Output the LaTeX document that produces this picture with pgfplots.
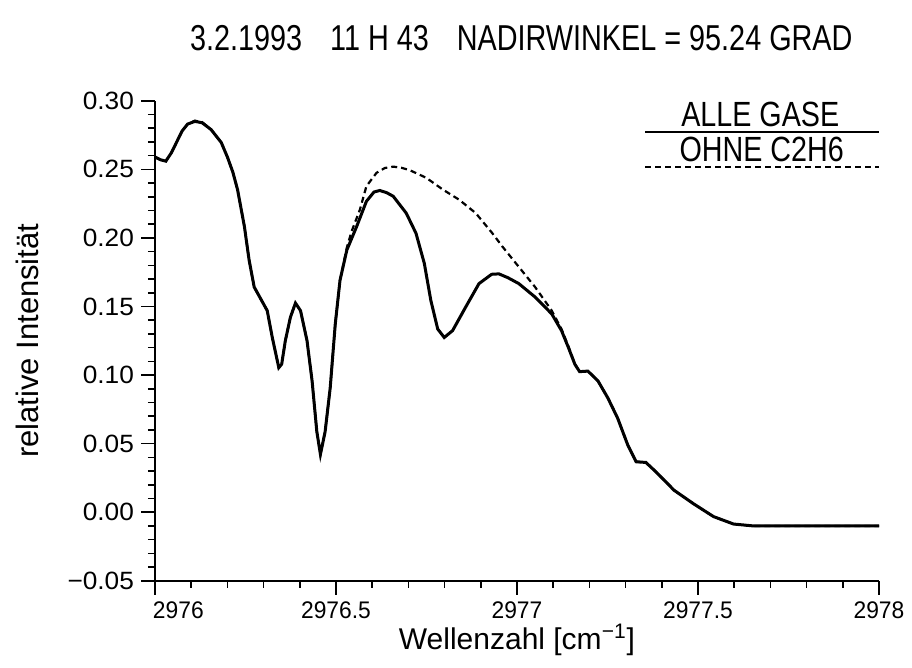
\documentclass[border=0pt]{standalone}
\usepackage{fontspec}
\setmainfont{Liberation Sans}
\newfontfamily\tickfont{Liberation Sans}[FakeStretch=0.95]
\newfontfamily\ytickfont{Liberation Sans}[FakeStretch=1.05]
\newfontfamily\titlefont{Liberation Sans}[FakeStretch=0.8]
\newfontfamily\legfont{Liberation Sans}[FakeStretch=0.82]
\usepackage{pgfplots}
\pgfplotsset{compat=1.18}
\begin{document}
\begin{tikzpicture}
  \begin{axis}[
    scale only axis, width=362pt, height=240pt,
    xmin=2976, xmax=2978, ymin=-0.05, ymax=0.30,
    axis x line=bottom, axis y line=left,
    axis line style={-, line width=0.9pt},
    clip=false,
    xtick={2976,2976.5,2977,2977.5,2978},
    xticklabels={\makebox[0pt][l]{\hspace{-1pt}2976},2976.5,2977,2977.5,2978},
    minor x tick num=4,
    ytick={-0.05,0,0.05,0.10,0.15,0.20,0.25,0.30},
    yticklabels={−0.05,0.00,0.05,0.10,0.15,0.20,0.25,0.30},
    minor y tick num=4,
    tick align=outside,
    major tick length=7pt, minor tick length=3.5pt,
    every tick/.style={black, line width=0.8pt},
    xticklabel style={font=\tickfont\fontsize{12}{14}\selectfont},
    yticklabel style={font=\ytickfont\fontsize{12.5}{14}\selectfont},
    /pgf/number format/assume math mode=true,
  ]

    % OHNE C2H6
    \addplot[black, line width=1.1pt, dash pattern=on 3pt off 2pt] coordinates {
      (2976.000, 0.259) (2976.015, 0.257) (2976.030, 0.256) (2976.045, 0.262)
      (2976.060, 0.270) (2976.075, 0.278) (2976.090, 0.283) (2976.110, 0.2855)
      (2976.130, 0.2845) (2976.155, 0.279) (2976.183, 0.2696) (2976.200, 0.259)
      (2976.215, 0.248) (2976.228, 0.2353) (2976.247, 0.2083) (2976.260, 0.1838)
      (2976.274, 0.1642) (2976.292, 0.1556) (2976.310, 0.147) (2976.324, 0.1274)
      (2976.342, 0.1054) (2976.350, 0.108) (2976.360, 0.125) (2976.374, 0.1421)
      (2976.388, 0.1525) (2976.402, 0.147) (2976.420, 0.125) (2976.434, 0.0956)
      (2976.447, 0.0588) (2976.457, 0.0422) (2976.470, 0.0588) (2976.484, 0.0907)
      (2976.498, 0.1373) (2976.511, 0.169) (2976.530, 0.1930) (2976.543, 0.2047)
      (2976.566, 0.2206) (2976.584, 0.2377) (2976.612, 0.2475) (2976.635, 0.2510)
      (2976.658, 0.2520) (2976.680, 0.2512) (2976.703, 0.2495) (2976.749, 0.2439)
      (2976.795, 0.2353) (2976.840, 0.2279) (2976.886, 0.2181) (2976.932, 0.2034)
      (2976.960, 0.1936) (2977.005, 0.1789) (2977.050, 0.1642) (2977.096, 0.1470)
      (2977.123, 0.1335) (2977.142, 0.1210) (2977.160, 0.1080) (2977.173, 0.1025)
      (2977.196, 0.1029) (2977.224, 0.0956) (2977.251, 0.0833) (2977.278, 0.0686)
      (2977.306, 0.049) (2977.329, 0.0368) (2977.356, 0.0363) (2977.384, 0.0294)
      (2977.434, 0.016) (2977.488, 0.0061) (2977.543, -0.0032) (2977.598, -0.0086)
      (2977.653, -0.0100) (2977.700, -0.0100) (2978.000, -0.0100)
    };

    % ALLE GASE
    \addplot[black, line width=1.5pt] coordinates {
      (2976.000, 0.259) (2976.015, 0.257) (2976.030, 0.256) (2976.045, 0.262)
      (2976.060, 0.270) (2976.075, 0.278) (2976.090, 0.283) (2976.110, 0.285)
      (2976.130, 0.284) (2976.155, 0.279) (2976.183, 0.2696) (2976.200, 0.259)
      (2976.215, 0.248) (2976.228, 0.2353) (2976.247, 0.2083) (2976.260, 0.1838)
      (2976.274, 0.1642) (2976.292, 0.1556) (2976.310, 0.147) (2976.324, 0.1274)
      (2976.342, 0.1054) (2976.350, 0.108) (2976.360, 0.125) (2976.374, 0.1421)
      (2976.388, 0.1525) (2976.402, 0.147) (2976.420, 0.125) (2976.434, 0.0956)
      (2976.447, 0.0588) (2976.457, 0.0422) (2976.470, 0.0588) (2976.484, 0.0907)
      (2976.498, 0.1373) (2976.511, 0.169) (2976.530, 0.1912) (2976.557, 0.2083)
      (2976.584, 0.2267) (2976.605, 0.2335) (2976.621, 0.2346) (2976.640, 0.2330)
      (2976.658, 0.2304) (2976.694, 0.2181) (2976.721, 0.2034) (2976.744, 0.1814)
      (2976.762, 0.1544) (2976.781, 0.1336) (2976.799, 0.1274) (2976.822, 0.1324)
      (2976.858, 0.1495) (2976.895, 0.1667) (2976.930, 0.1735) (2976.950, 0.1738)
      (2976.975, 0.1710) (2977.005, 0.1667) (2977.050, 0.1569) (2977.096, 0.1446)
      (2977.123, 0.1324) (2977.142, 0.1201) (2977.160, 0.1078) (2977.173, 0.1025)
      (2977.196, 0.1029) (2977.224, 0.0956) (2977.251, 0.0833) (2977.278, 0.0686)
      (2977.306, 0.049) (2977.329, 0.0368) (2977.356, 0.0363) (2977.384, 0.0294)
      (2977.434, 0.016) (2977.488, 0.0061) (2977.543, -0.0032) (2977.598, -0.0086)
      (2977.653, -0.0100) (2977.700, -0.0100) (2978.000, -0.0100)
    };

    % title and axis labels
    \node[font=\titlefont\fontsize{18}{21}\selectfont] at ([yshift=31.4pt]rel axis cs:0.506,1)
      {3.2.1993\hspace{10pt} 11 H 43\hspace{10pt} NADIRWINKEL = 95.24 GRAD};
    \node[font=\fontsize{15}{18}\selectfont] at ([yshift=-29.5pt]rel axis cs:0.5,0)
      {Wellenzahl [cm\textsuperscript{−1}]};
    \node[font=\fontsize{15.5}{18}\selectfont, rotate=90] at ([xshift=-64pt]rel axis cs:0,0.5)
      {relative Intensität};

    % legend
    \node[font=\legfont\fontsize{17.5}{20}\selectfont] at (rel axis cs:0.836,0.972) {ALLE GASE};
    \draw[line width=0.9pt] (rel axis cs:0.677,0.935) -- (rel axis cs:1,0.935);
    \node[font=\legfont\fontsize{17.5}{20}\selectfont] at (rel axis cs:0.838,0.899) {OHNE C2H6};
    \draw[line width=1.1pt, dash pattern=on 3pt off 2pt] (rel axis cs:0.677,0.8625) -- (rel axis cs:1,0.8625);
  \end{axis}
  \pgfresetboundingbox
  \useasboundingbox (-77.5pt,-43.5pt) rectangle (378.5pt,290.4pt);
\end{tikzpicture}
\end{document}
